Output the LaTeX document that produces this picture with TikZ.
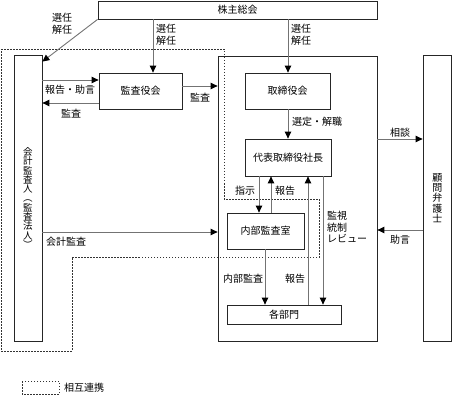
\documentclass[tikz,border=0pt]{standalone}
\usepackage{fontspec}
\setmainfont{Noto Sans CJK JP}
\usetikzlibrary{arrows.meta}
\begin{document}
\begin{tikzpicture}[x=1pt,y=-1pt,
 box/.style={draw=black!85,line width=0.8pt,inner sep=0pt,font=\fontsize{10}{12}\selectfont},
 conn/.style={draw=black!55,line width=0.9pt,-{Triangle[length=7pt,width=6.5pt,color=black]}},
 lbl/.style={inner sep=0pt,font=\fontsize{10}{12}\selectfont,align=center},
 coop/.style={draw=black!80,line width=0.7pt,dash pattern=on 1.5pt off 1.5pt}]
\useasboundingbox (0,0) rectangle (452,395);
% cooperation region
\draw[coop] (1,49) -- (224,49) -- (224,199) -- (319,199) -- (319,257) -- (72,257) -- (72,351) -- (1,351) -- cycle;
% boxes
\node[box,minimum width=279pt,minimum height=18pt] (kabu) at (237.5,10) {株主総会};
\node[box,minimum width=159pt,minimum height=285pt] (comp) at (297.5,198.5) {};
\node[box,minimum width=28pt,minimum height=286pt,align=center,font=\fontsize{9.5}{9.3}\selectfont] (kaikei) at (28,198) {会\\計\\監\\査\\人\\︵\\監\\査\\法\\人\\︶};
\node[box,minimum width=28.5pt,minimum height=286pt,align=center,font=\fontsize{10}{10.4}\selectfont] (komon) at (437.25,198) {顧\\問\\弁\\護\\士};
\node[box,minimum width=83pt,minimum height=36pt] (kansa) at (140.5,91) {監査役会};
\node[box,minimum width=85pt,minimum height=36pt] (tori) at (287.5,91) {取締役会};
\node[box,minimum width=86pt,minimum height=37pt] (daihyo) at (288,157.5) {代表取締役社長};
\node[box,minimum width=77pt,minimum height=36pt] (naibu) at (265.5,231) {内部監査室};
\node[box,minimum width=114pt,minimum height=19pt] (kakubu) at (284,314.5) {各部門};
% connectors
\draw[conn] (kabu.south west) -- ([yshift=-7pt]kaikei.north east);
\node[lbl] (l1) at (62,24) {選任\\解任};
\draw[conn] (kabu.south -| 153,0) -- (kansa.north -| 153,0);
\node[lbl] (l2) at (166,35) {選任\\解任};
\draw[conn] (kabu.south -| 288,0) -- (tori.north -| 288,0);
\node[lbl] (l3) at (301,35) {選任\\解任};
\draw[conn] (kaikei.east |- 0,80) -- (kansa.west |- 0,80);
\node[lbl] (l4) at (70,90) {報告・助言};
\draw[conn] (kansa.west |- 0,103) -- (kaikei.east |- 0,103);
\node[lbl] (l5) at (71,114) {監査};
\draw[conn] (kansa.east |- 0,86) -- (comp.west |- 0,86);
\node[lbl] (l6) at (200,98) {監査};
\draw[conn] (tori.south -| 288,0) -- (daihyo.north -| 288,0);
\node[lbl] (l7) at (317,122) {選定・解職};
\draw[conn] (comp.east |- 0,139) -- (komon.west |- 0,139);
\node[lbl] (l8) at (400,133) {相談};
\draw[conn] (komon.west |- 0,230) -- (comp.east |- 0,230);
\node[lbl] (l9) at (400,240) {助言};
\draw[conn] (daihyo.south -| 259,0) -- (naibu.north -| 259,0);
\node[lbl] (l10) at (245,191) {指示};
\draw[conn] (naibu.north -| 271,0) -- (daihyo.south -| 271,0);
\node[lbl] (l11) at (285,191) {報告};
\draw[conn] (kaikei.east |- 0,232) -- (comp.west |- 0,232);
\node[lbl] (l12) at (66,242) {会計監査};
\draw[conn] (naibu.south -| 265,0) -- (kakubu.north -| 265,0);
\node[lbl] (l13) at (243,279) {内部監査};
\draw[conn] (kakubu.north -| 308,0) -- (daihyo.south -| 308,0);
\node[lbl] (l14) at (295,279) {報告};
\draw[conn] (daihyo.south -| 323,0) -- (kakubu.north -| 323,0);
\node[lbl,align=left,anchor=west,font=\fontsize{10}{11.5}\selectfont] (l15) at (327,227) {監視\\統制\\レビュー};
% legend
\draw[coop] (22,381) rectangle (59,394);
\node[lbl] (leg) at (84,388) {相互連携};
\end{tikzpicture}
\end{document}
